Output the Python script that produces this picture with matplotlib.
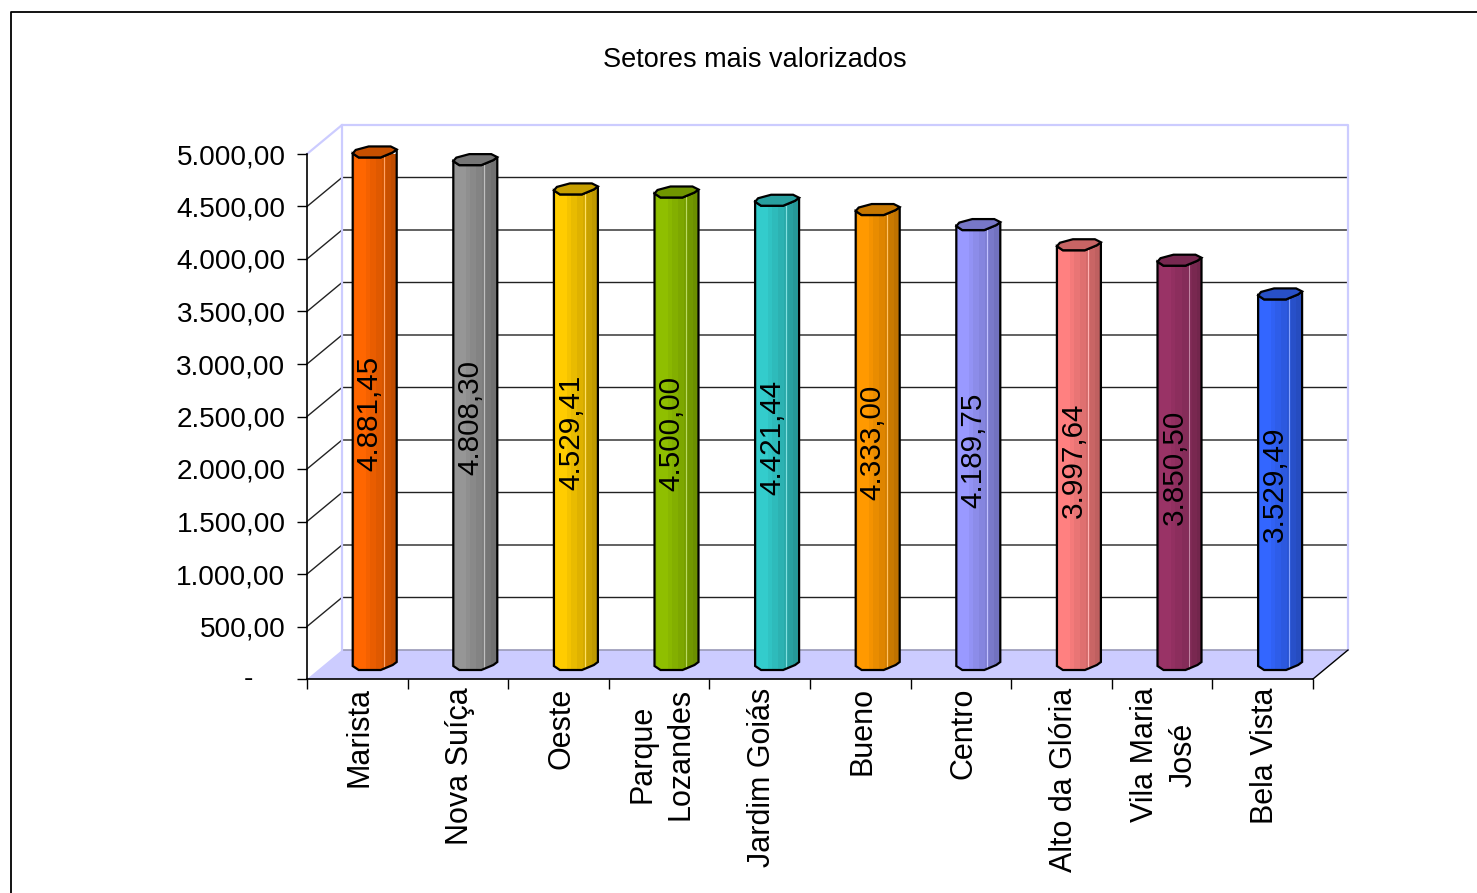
import numpy as np
import matplotlib
matplotlib.use("Agg")
from matplotlib import pyplot as plt
from matplotlib.patches import Polygon
from matplotlib.lines import Line2D
from matplotlib.colors import to_rgb

plt.rcParams["font.family"] = ["Liberation Sans", "DejaVu Sans"]

categories = ["Marista", "Nova Suíça", "Oeste", "Parque\nLozandes", "Jardim Goiás",
              "Bueno", "Centro", "Alto da Glória", "Vila Maria\nJosé", "Bela Vista"]
values = [4881.45, 4808.30, 4529.41, 4500.00, 4421.44, 4333.00, 4189.75, 3997.64, 3850.50, 3529.49]
value_labels = ["4.881,45", "4.808,30", "4.529,41", "4.500,00", "4.421,44",
                "4.333,00", "4.189,75", "3.997,64", "3.850,50", "3.529,49"]
bar_colors = ["#FF6600", "#969696", "#FFCC00", "#8FBF00", "#33CCCC",
              "#FF9900", "#9999FF", "#FF8080", "#993366", "#3366FF"]
y_ticks = [0, 500, 1000, 1500, 2000, 2500, 3000, 3500, 4000, 4500, 5000]
y_labels = ["", "500,00", "1.000,00", "1.500,00", "2.000,00", "2.500,00",
            "3.000,00", "3.500,00", "4.000,00", "4.500,00", "5.000,00"]

W, H = 1477, 893
fig = plt.figure(figsize=(W / 100, H / 100), dpi=100)
ax = fig.add_axes([307 / W, (H - 679) / H, 1006 / W, 525 / H])
ax.set_xlim(0, 10)
ax.set_ylim(0, 5000)
ax.patch.set_alpha(0)

# pixel sizes to data units
ux = 10 / 1006
uy = 5000 / 525
depth_x = 35 * ux
depth_y = 29 * uy
wall = "#CCCCFF"

# outer frame, cut off by the image edge
fig.add_artist(Line2D([11 / W, 11 / W, 1], [0, 1 - 12 / H, 1 - 12 / H], color="black", lw=1.3))

# floor and walls
ax.add_patch(Polygon([(0, 0), (10, 0), (10 + depth_x, depth_y), (depth_x, depth_y)],
                     fc=wall, ec="none", clip_on=False, zorder=1))
ax.plot([depth_x, 10 + depth_x], [depth_y, depth_y], color="#9a9ab8", lw=1.2, clip_on=False, zorder=1.2)
for t in y_ticks[1:-1]:
    ax.plot([0, depth_x, 10 + depth_x], [t, t + depth_y, t + depth_y], color="#222222", lw=1.0,
            clip_on=False, zorder=1.1)
ax.plot([0, depth_x, 10 + depth_x, 10 + depth_x], [5000, 5000 + depth_y, 5000 + depth_y, depth_y],
        color=wall, lw=1.6, clip_on=False, zorder=1.2)
ax.plot([depth_x, depth_x], [depth_y, 5000 + depth_y], color=wall, lw=1.6, clip_on=False, zorder=1.2)
ax.plot([10, 10 + depth_x], [0, depth_y], color="black", lw=1.0, clip_on=False, zorder=1.3)

# cylinder outline, px from the bar's front left corner
front_x = np.array([0, 6, 28, 40, 44])
front_y = np.array([4, 0, 0, 5, 8])
back_x = np.array([38, 16, 3])
back_y = np.array([11, 11, 7.5])
shade_pos = [0, 5, 10, 16, 22, 28, 34, 40, 44]
shade_val = [0.97, 1.0, 1.0, 0.95, 0.90, 0.86, 0.80, 0.76, 0.72]

for i, (v, c) in enumerate(zip(values, bar_colors)):
    left = i + 46 * ux - 0.3 * ux
    base = 9 * uy
    top = base + v
    rgb = np.array(to_rgb(c))
    fx = left + front_x * ux
    side = list(zip(fx, top + front_y * uy)) + list(zip(fx[::-1], base + front_y[::-1] * uy))
    patch = Polygon(side, fc="none", ec="black", lw=1.6, clip_on=False, zorder=3.2)
    ax.add_patch(patch)
    shade = np.interp(np.arange(44) + 0.5, shade_pos, shade_val)
    shade = np.round(shade * 24) / 24
    img = np.clip(shade[None, :, None] * rgb, 0, 1)
    im = ax.imshow(img, extent=[left, left + 44 * ux, base, top + 12 * uy], aspect="auto",
                   interpolation="nearest", zorder=3)
    im.set_clip_path(patch)
    # thin light edge on the shaded side
    lx = left + 31 * ux
    ax.plot([lx, lx], [base + 1 * uy, top + 1 * uy], color=tuple(0.6 * rgb + 0.4), lw=0.8, zorder=3.1)
    cap_x = np.concatenate([front_x, back_x]) * ux + left
    cap_y = np.concatenate([front_y, back_y]) * uy + top
    ax.add_patch(Polygon(list(zip(cap_x, cap_y)), fc=tuple(0.78 * rgb), ec="black", lw=1.6,
                         clip_on=False, zorder=3.3))
    ax.text(left + 17 * ux, base + v / 2, value_labels[i], rotation=90, ha="center", va="center",
            fontsize=21.3, color="black", zorder=4)

ax.set_xlim(0, 10)
ax.set_ylim(0, 5000)

# axes
for s in ["top", "right"]:
    ax.spines[s].set_visible(False)
for s in ["left", "bottom"]:
    ax.spines[s].set_linewidth(1.2)
    ax.spines[s].set_zorder(2)
ax.set_yticks(y_ticks)
ax.set_yticklabels(y_labels, fontsize=20.2)
ax.set_xticks(range(11))
ax.set_xticklabels([])
ax.tick_params(axis="both", length=7, width=1.0)
ax.tick_params(axis="y", pad=8.5)

# the zero label sits further left than the others
ax.annotate("-", xy=(0, 0), xytext=(-59 * 0.72, 0), textcoords="offset points", ha="center",
            va="center", fontsize=20.2, annotation_clip=False)

for i, name in enumerate(categories):
    ax.text(i + 0.525, -80, name, rotation=90, ha="center", va="top", fontsize=22,
            multialignment="center", linespacing=1.38, clip_on=False)

fig.text(755 / W, 1 - 60 / H, "Setores mais valorizados", ha="center", va="center", fontsize=19.5)

fig.savefig("out.png", dpi=100, facecolor="white")
